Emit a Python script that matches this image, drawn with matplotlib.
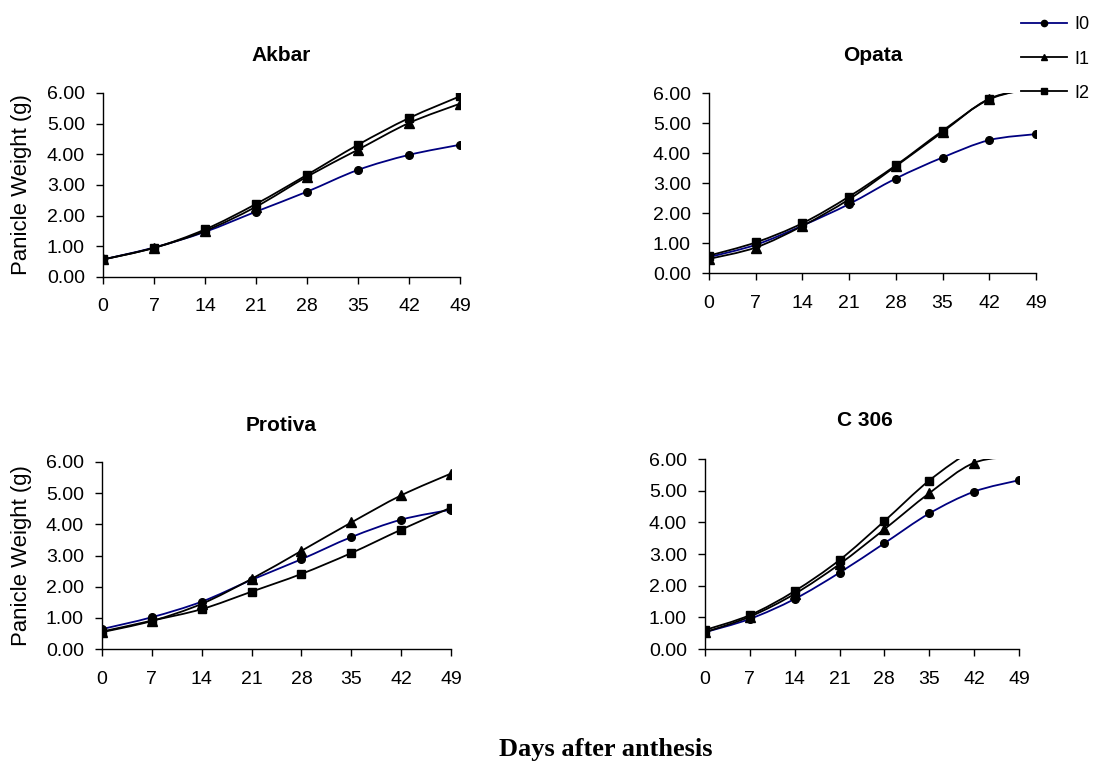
import numpy as np
import matplotlib
matplotlib.use("Agg")
import matplotlib.pyplot as plt
from matplotlib.path import Path
from matplotlib.patches import PathPatch
from matplotlib.lines import Line2D

plt.rcParams['font.family'] = ['Liberation Sans', 'DejaVu Sans']

# Data
days = [0, 7, 14, 21, 28, 35, 42, 49]
series_names = ['I0', 'I1', 'I2']

akbar_i0 = [0.57, 0.96, 1.47, 2.13, 2.78, 3.49, 3.98, 4.31]
akbar_i1 = [0.57, 0.95, 1.50, 2.29, 3.27, 4.15, 5.02, 5.65]
akbar_i2 = [0.57, 0.95, 1.55, 2.38, 3.33, 4.31, 5.18, 5.89]

opata_i0 = [0.53, 0.94, 1.58, 2.30, 3.15, 3.85, 4.43, 4.63]
opata_i1 = [0.47, 0.85, 1.57, 2.46, 3.56, 4.70, 5.81, 6.15]
opata_i2 = [0.58, 1.02, 1.66, 2.55, 3.59, 4.74, 5.79, 6.17]

protiva_i0 = [0.64, 1.02, 1.52, 2.22, 2.88, 3.59, 4.15, 4.47]
protiva_i1 = [0.54, 0.90, 1.45, 2.25, 3.15, 4.06, 4.93, 5.63]
protiva_i2 = [0.56, 0.91, 1.28, 1.84, 2.41, 3.08, 3.83, 4.54]

c306_i0 = [0.53, 0.95, 1.58, 2.41, 3.34, 4.28, 4.97, 5.33]
c306_i1 = [0.53, 1.02, 1.74, 2.68, 3.78, 4.92, 5.88, 6.08]
c306_i2 = [0.60, 1.07, 1.83, 2.81, 4.04, 5.32, 6.30, 6.90]

panels = [
    ("Akbar", [akbar_i0, akbar_i1, akbar_i2]),
    ("Opata", [opata_i0, opata_i1, opata_i2]),
    ("Protiva", [protiva_i0, protiva_i1, protiva_i2]),
    ("C 306", [c306_i0, c306_i1, c306_i2]),
]

colors = ['#000080', 'black', 'black']
markers = ['o', '^', 's']
msizes = [5.5, 6.5, 5.5]

# axes rectangles and title positions (axes coords)
rects = [
    [0.0935, 0.6370, 0.3239, 0.2412],
    [0.6434, 0.6422, 0.2967, 0.2359],
    [0.0926, 0.1494, 0.3167, 0.2451],
    [0.6397, 0.1494, 0.2849, 0.2490],
]
title_pos = [(0.5, 1.174), (0.5, 1.178), (0.513, 1.166), (0.51, 1.174)]
ylabel_x = [-0.199, None, -0.2, None]


def smooth_path(x, y):
    # Excel-style smoothed line drawn as cubic Bezier segments
    pts = np.column_stack([x, y]).astype(float)
    verts = [pts[0]]
    codes = [Path.MOVETO]
    n = len(pts)
    for i in range(n - 1):
        p0 = pts[i - 1] if i > 0 else pts[i]
        p1 = pts[i]
        p2 = pts[i + 1]
        p3 = pts[i + 2] if i + 2 < n else pts[i + 1]
        c1 = p1 + (p2 - p0) / 6.0
        c2 = p2 - (p3 - p1) / 6.0
        verts += [c1, c2, p2]
        codes += [Path.CURVE4] * 3
    return Path(verts, codes)


fig = plt.figure(figsize=(11.02, 7.63), dpi=100)

for k, (name, data) in enumerate(panels):
    ax = fig.add_axes(rects[k])
    for vals, c, m, ms in zip(data, colors, markers, msizes):
        patch = PathPatch(smooth_path(days, vals), facecolor='none',
                          edgecolor=c, lw=1.3, zorder=2)
        ax.add_patch(patch)
        # points above the axis limit are hidden, as in the original
        vis = [(d, v) for d, v in zip(days, vals) if v <= 6.0]
        ax.plot([d for d, _ in vis], [v for _, v in vis], linestyle='none',
                marker=m, color='black', markersize=ms, zorder=3)
    ax.set_xlim(0, 49)
    ax.set_ylim(0, 6)
    ax.set_xticks(days)
    ax.set_yticks(np.arange(0, 7, 1))
    ax.set_yticklabels([f"{v:.2f}" for v in np.arange(0, 7, 1)])
    for s in ['top', 'right']:
        ax.spines[s].set_visible(False)
    ax.spines['left'].set_linewidth(1.0)
    ax.spines['bottom'].set_linewidth(1.0)
    ax.tick_params(axis='x', direction='out', length=5, width=1, pad=10.5,
                   labelsize=14)
    ax.tick_params(axis='y', direction='out', length=5, width=1, pad=8,
                   labelsize=14)
    ax.text(title_pos[k][0], title_pos[k][1], name, transform=ax.transAxes,
            ha='center', va='baseline', fontsize=15, fontweight='bold')
    if ylabel_x[k] is not None:
        ax.set_ylabel("Panicle Weight (g)", fontsize=15.9)
        ax.yaxis.set_label_coords(ylabel_x[k], 0.5)

handles = [Line2D([], [], color=c, marker=m, markersize=4.5, lw=1.3,
                  markerfacecolor='black', markeredgecolor='black')
           for c, m in zip(colors, markers)]
fig.legend(handles, series_names, loc='upper right',
           bbox_to_anchor=(1.0, 0.995), frameon=False, fontsize=13,
           handlelength=2.55, handletextpad=0.4, labelspacing=0.95,
           borderpad=0.2)

fig.text(0.55, 0.0095, "Days after anthesis", ha='center', va='baseline',
         fontsize=19, fontweight='bold', family=['Liberation Serif'])

fig.savefig("out.png", dpi=100)
